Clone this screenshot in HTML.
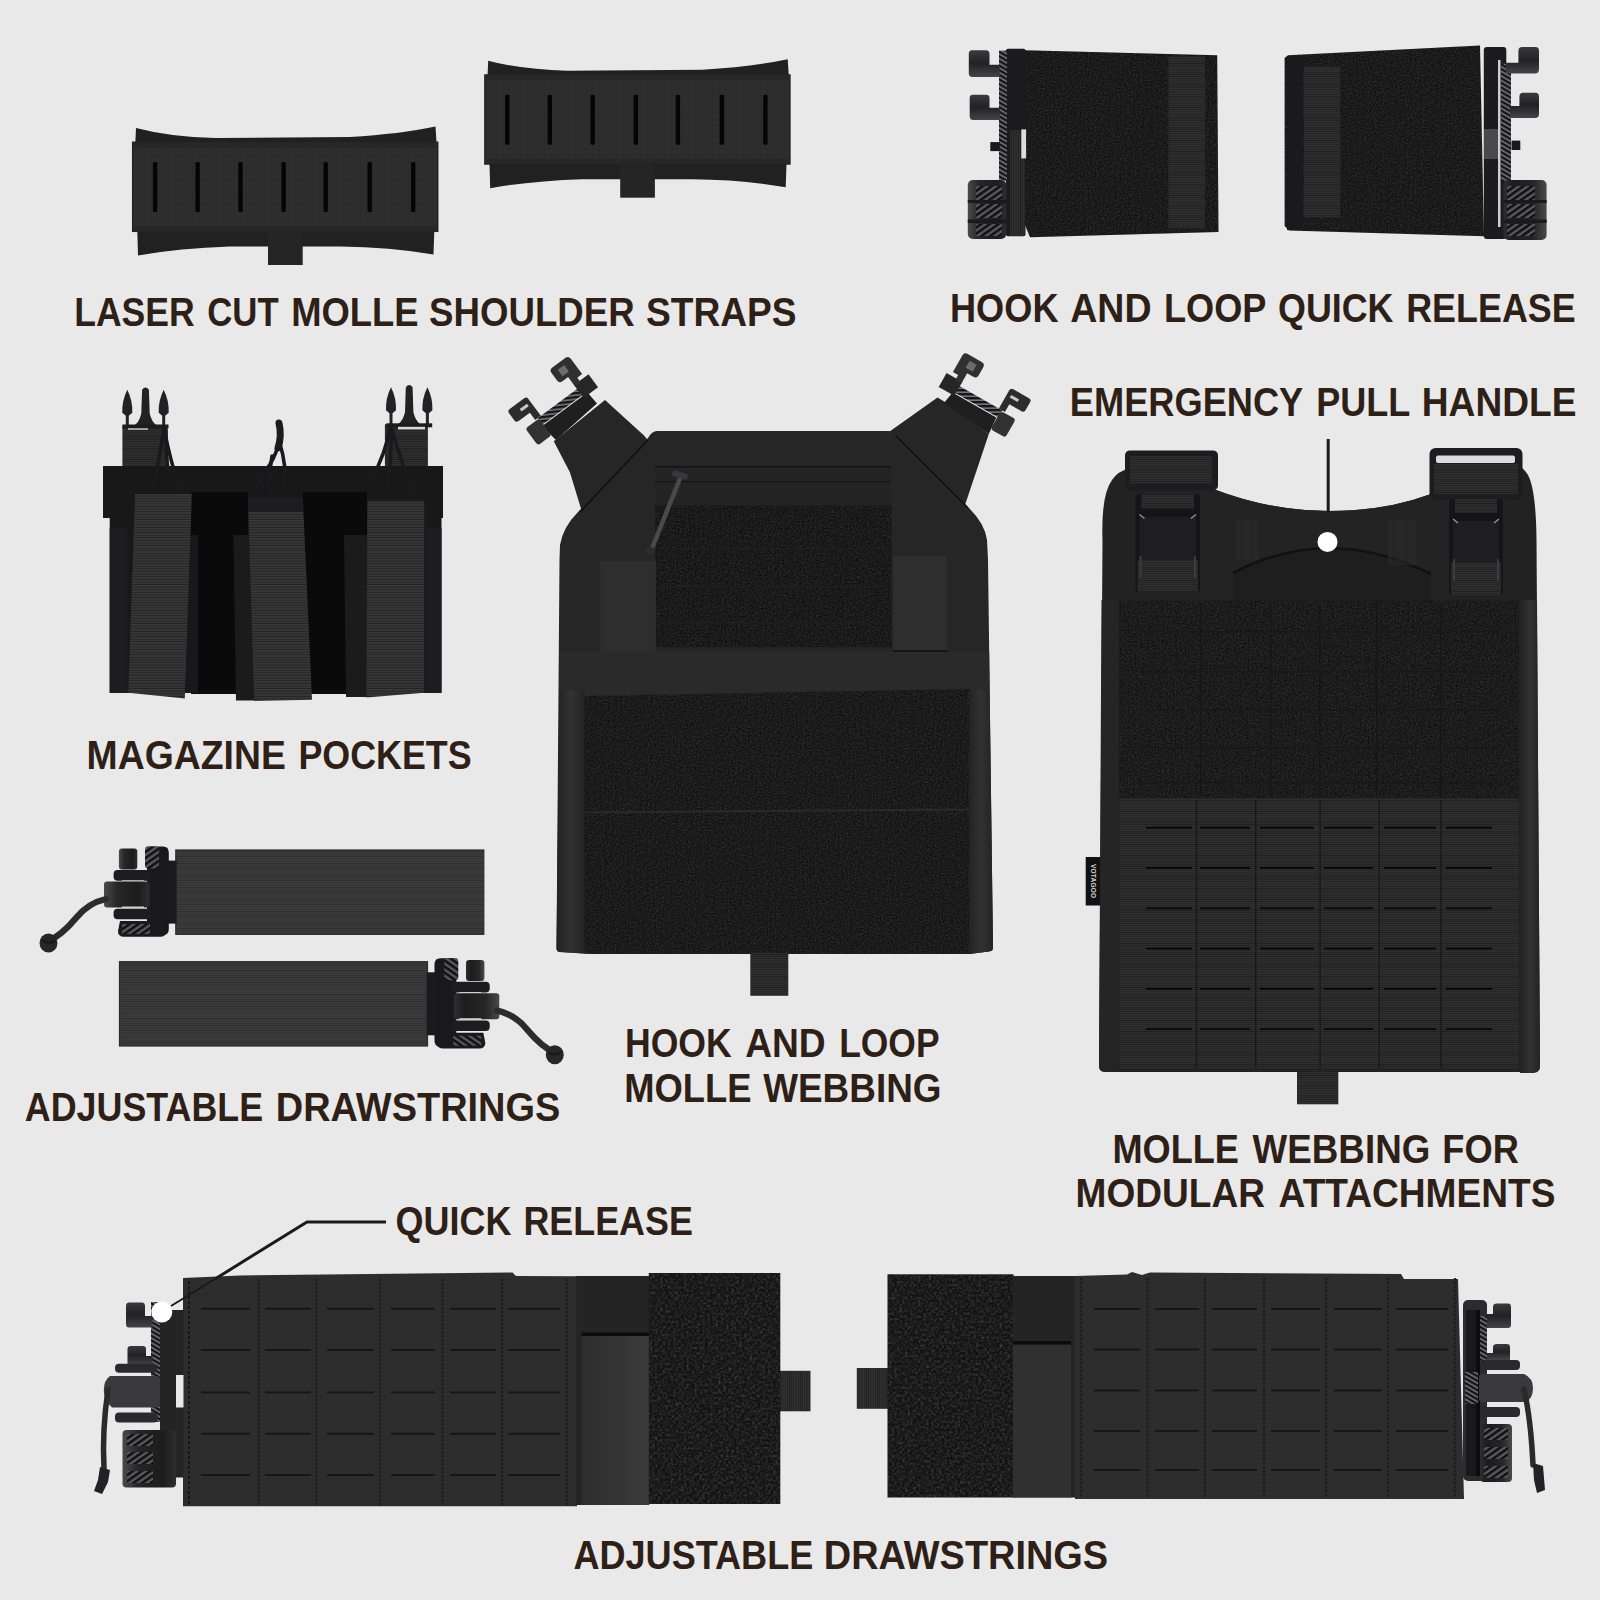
<!DOCTYPE html>
<html><head><meta charset="utf-8"><title>Plate carrier features</title>
<style>
html,body{margin:0;padding:0;background:#e9e9e9;}
body{width:1600px;height:1600px;overflow:hidden;}
svg{display:block;}
text{font-family:"Liberation Sans",sans-serif;font-weight:bold;fill:#2e1f17;}
</style></head><body>
<svg width="1600" height="1600" viewBox="0 0 1600 1600">
<defs>
<filter id="velcro" x="0" y="0" width="100%" height="100%" color-interpolation-filters="sRGB">
  <feTurbulence type="fractalNoise" baseFrequency="0.6" numOctaves="2" seed="3" result="n"/>
  <feColorMatrix in="n" type="matrix" values="0 0 0 0 0  0 0 0 0 0  0 0 0 0 0  0.12 0.12 0.12 0 -0.13"/>
  <feComposite in2="SourceGraphic" operator="in" result="nn"/>
  <feFlood flood-color="#ffffff" result="w"/>
  <feComposite in="w" in2="nn" operator="in" result="wn"/>
  <feMerge><feMergeNode in="SourceGraphic"/><feMergeNode in="wn"/></feMerge>
</filter>
<filter id="velcro2" x="0" y="0" width="100%" height="100%" color-interpolation-filters="sRGB">
  <feTurbulence type="fractalNoise" baseFrequency="0.38" numOctaves="2" seed="7" result="n"/>
  <feColorMatrix in="n" type="matrix" values="0 0 0 0 0  0 0 0 0 0  0 0 0 0 0  0.20 0.20 0.20 0 -0.26"/>
  <feComposite in2="SourceGraphic" operator="in" result="nn"/>
  <feFlood flood-color="#ffffff" result="w"/>
  <feComposite in="w" in2="nn" operator="in" result="wn"/>
  <feMerge><feMergeNode in="SourceGraphic"/><feMergeNode in="wn"/></feMerge>
</filter>
<pattern id="rib" width="4" height="2.2" patternUnits="userSpaceOnUse">
  <rect width="4" height="2.2" fill="#2f2f2f"/><rect y="1.4" width="4" height="0.8" fill="#1f1f1f"/>
</pattern>
<pattern id="ribP" width="4" height="2.6" patternUnits="userSpaceOnUse">
  <rect width="4" height="2.6" fill="#393939"/><rect y="1.6" width="4" height="1" fill="#222222"/>
</pattern>
<pattern id="ribS" width="4" height="2.4" patternUnits="userSpaceOnUse">
  <rect width="4" height="2.4" fill="#3c3c3c"/><rect y="1.6" width="4" height="0.8" fill="#2d2d2d"/>
</pattern>
<pattern id="ribV" width="2.2" height="4" patternUnits="userSpaceOnUse">
  <rect width="2.2" height="4" fill="#303030"/><rect x="1.4" width="0.8" height="4" fill="#202020"/>
</pattern>
<pattern id="ripstop" width="6" height="6" patternUnits="userSpaceOnUse">
  <rect width="6" height="6" fill="#2e2e2e"/><path d="M0 0H6M0 0V6" stroke="#272727" stroke-width="1"/>
</pattern>
<pattern id="hatch" width="5" height="5" patternUnits="userSpaceOnUse" patternTransform="rotate(-35)">
  <rect width="5" height="5" fill="#5a5a5c"/><rect width="5" height="2.6" fill="#101012"/>
</pattern>
<pattern id="cord" width="4" height="4" patternUnits="userSpaceOnUse" patternTransform="rotate(30)">
  <rect width="4" height="4" fill="#77777a"/><rect width="4" height="2.4" fill="#151517"/>
</pattern>
<linearGradient id="elas" x1="0" y1="0" x2="1" y2="0"><stop offset="0" stop-color="#2e2e2e"/><stop offset="0.55" stop-color="#353535"/><stop offset="1" stop-color="#3c3c3c"/></linearGradient>
<linearGradient id="sideg" x1="0" y1="0" x2="1" y2="0"><stop offset="0" stop-color="#222222"/><stop offset="0.5" stop-color="#323232"/><stop offset="1" stop-color="#232323"/></linearGradient>
<linearGradient id="cyl" x1="0" y1="0" x2="1" y2="0">
  <stop offset="0" stop-color="#4a4a4a"/><stop offset="0.3" stop-color="#262626"/><stop offset="0.75" stop-color="#1c1c1c"/><stop offset="1" stop-color="#2e2e2e"/>
</linearGradient>
<linearGradient id="cylR" x1="1" y1="0" x2="0" y2="0">
  <stop offset="0" stop-color="#4a4a4a"/><stop offset="0.3" stop-color="#262626"/><stop offset="0.75" stop-color="#1c1c1c"/><stop offset="1" stop-color="#2e2e2e"/>
</linearGradient>
<linearGradient id="hookg" x1="0" y1="0" x2="0" y2="1">
  <stop offset="0" stop-color="#3a3a3c"/><stop offset="0.5" stop-color="#222224"/><stop offset="1" stop-color="#444447"/>
</linearGradient>
</defs>
<rect width="1600" height="1600" fill="#e9e9e9"/>
<g id="strap"><path d="M136 128 Q170 137 215 138 L350 137 Q400 134 435.5 126.5 L437 150 L433.5 254.5 Q390 247 340 246.5 L230 246.5 Q180 248 138 255.5 L135 150 Z" fill="#212121"/><rect x="268" y="228" width="34.7" height="37" fill="#252525"/><rect x="132.7" y="142.3" width="305" height="89" fill="url(#ripstop)"/><rect x="132.7" y="142.3" width="305" height="89" fill="none" stroke="#222222" stroke-width="1.5"/><rect x="132.7" y="142.3" width="305" height="5" fill="#272727"/><rect x="132.7" y="226" width="305" height="5.3" fill="#272727"/><rect x="152.9" y="162" width="4.4" height="50" rx="1.5" fill="#050506"/><rect x="195.4" y="162" width="4.4" height="50" rx="1.5" fill="#050506"/><rect x="238.3" y="162" width="4.4" height="50" rx="1.5" fill="#050506"/><rect x="281.4" y="162" width="4.4" height="50" rx="1.5" fill="#050506"/><rect x="323.5" y="162" width="4.4" height="50" rx="1.5" fill="#050506"/><rect x="367.5" y="162" width="4.4" height="50" rx="1.5" fill="#050506"/><rect x="411.0" y="162" width="4.4" height="50" rx="1.5" fill="#050506"/></g><use href="#strap" transform="translate(352.2,-67.3)"/><g id="hlL"><path d="M1025 50.3 L1217.2 55.3 L1218.5 232 L1030 237.2 L1025 225 Z" fill="#101010" filter="url(#velcro)"/><rect x="1168.4" y="56.3" width="36.6" height="172.5" fill="url(#rib)"/><rect x="1006" y="48.8" width="19.5" height="187.5" rx="2" fill="#1b1b1d"/><rect x="1010" y="130" width="15" height="106" fill="url(#ribV)"/><rect x="999" y="50.6" width="8" height="130" fill="url(#cord)"/><path d="M972 50.3 H986 Q989.5 50.3 989.5 54 V64.7 H999.7 V76.9 H972 Q968.8 76.9 968.8 73 V54 Q968.8 50.3 972 50.3Z" fill="url(#hookg)"/><path d="M973 94.7 H986 Q989.5 94.7 989.5 98 V107.8 H999.7 V120 H973 Q969.7 120 969.7 116 V98 Q969.7 94.7 973 94.7Z" fill="url(#hookg)"/><rect x="990.3" y="142.1" width="9.5" height="9" fill="#1a1a1c"/><rect x="1021.3" y="129.4" width="4.8" height="29" fill="#dcdcdc"/><rect x="967.8" y="180" width="38.5" height="59" rx="5" fill="url(#cyl)"/><rect x="976" y="186" width="26" height="14" fill="url(#hatch)"/><rect x="976" y="204" width="26" height="14" fill="url(#hatch)"/><rect x="976" y="224" width="26" height="12" fill="url(#hatch)"/><rect x="967.8" y="200" width="38.5" height="3" fill="#1a1a1c"/><rect x="967.8" y="219.5" width="38.5" height="3.5" fill="#1a1a1c"/></g><g id="hlR"><path d="M1284.6 58 L1288 55.3 L1480 45.4 L1484 236.3 L1289 230.6 L1284.6 226 Z" fill="#101010" filter="url(#velcro)"/><rect x="1287" y="56" width="16" height="174" fill="#1a1a1c"/><rect x="1303.8" y="66.6" width="36.5" height="151" fill="url(#rib)"/><rect x="1483.8" y="46.9" width="22.5" height="192" rx="3" fill="#1c1c1e"/><rect x="1498" y="60" width="2.5" height="167" fill="#cfcfcf"/><rect x="1484" y="129" width="14" height="30" fill="#4a4a4c"/><rect x="1501" y="63.8" width="10" height="117" fill="url(#cord)"/><path d="M1522 46.9 H1535.5 Q1539 46.9 1539 51 V69 Q1539 73.5 1535 73.5 H1506 V62.8 H1518.4 V51 Q1518.4 46.9 1522 46.9Z" fill="url(#hookg)"/><path d="M1523 92.8 H1535.5 Q1539 92.8 1539 97 V114 Q1539 118.1 1535 118.1 H1510 V105.9 H1519.4 V97 Q1519.4 92.8 1523 92.8Z" fill="url(#hookg)"/><rect x="1511.5" y="140.6" width="8.8" height="9.4" fill="#1a1a1c"/><rect x="1503.4" y="180" width="43.2" height="60" rx="5" fill="url(#cylR)"/><rect x="1507" y="186" width="28" height="14" fill="url(#hatch)"/><rect x="1507" y="204" width="28" height="14" fill="url(#hatch)"/><rect x="1507" y="224" width="28" height="12" fill="url(#hatch)"/><rect x="1503.4" y="200" width="43.2" height="3" fill="#1a1a1c"/><rect x="1503.4" y="219.5" width="43.2" height="3.5" fill="#1a1a1c"/></g><g id="mag"><rect x="122.4" y="425.5" width="45" height="44" fill="url(#rib)"/><rect x="384.9" y="424.3" width="43" height="45" fill="url(#rib)"/><path d="M142.1 389.7 Q145.5 385.2 148.9 389.7 L149.7 413.5 Q151.5 421.5 156.5 425.5 H134.5 Q139.5 421.5 141.3 413.5 Z" fill="#222222"/><path d="M127.3 389.7 Q132.8 400.7 132.3 412.7 L128.8 415.7 V427.5 H125.8 V415.7 L122.3 412.7 Q121.8 400.7 127.3 389.7 Z" fill="#222224"/><path d="M163.7 389.7 Q169.2 400.7 168.7 412.7 L165.2 415.7 V427.5 H162.2 V415.7 L158.7 412.7 Q158.2 400.7 163.7 389.7 Z" fill="#222224"/><rect x="122.5" y="424.5" width="46" height="4" fill="#1c1c1e"/><path d="M405.8 387.3 Q409.2 382.8 412.59999999999997 387.3 L413.4 412.3 Q415.2 420.3 420.2 424.3 H398.2 Q403.2 420.3 405.0 412.3 Z" fill="#222222"/><path d="M391.0 387.3 Q396.5 398.3 396.0 410.3 L392.5 413.3 V426.3 H389.5 V413.3 L386.0 410.3 Q385.5 398.3 391.0 387.3 Z" fill="#222224"/><path d="M427.4 387.3 Q432.9 398.3 432.4 410.3 L428.9 413.3 V426.3 H425.9 V413.3 L422.4 410.3 Q421.9 398.3 427.4 387.3 Z" fill="#222224"/><rect x="386.2" y="423.3" width="46" height="4" fill="#1c1c1e"/><rect x="398" y="426.8" width="27" height="2.6" fill="#d8d8d8"/><rect x="128" y="428.2" width="20" height="1.6" fill="#bdbdbd"/><path d="M103 466 H443 V518 H441.5 V693 H109.7 V518 H103 Z" fill="#181818"/><rect x="109.7" y="528" width="18" height="165" fill="#1d1d1f"/><rect x="426" y="528" width="15.5" height="165" fill="#1d1d1f"/><rect x="191" y="492" width="57" height="202" fill="#0a0a0b"/><rect x="303" y="492" width="64" height="202" fill="#0a0a0b"/><path d="M233.4 535 H256 V700.5 H236 Z" fill="#1b1b1b"/><path d="M344 535 H369 V697 H346 Z" fill="#1b1b1b"/><path d="M184 535 H198 V693 H186 Z" fill="#18181a"/><path d="M135.1 493.9 H191.8 L184.8 698.5 L128.2 692.8 Z" fill="url(#ribP)"/><path d="M248 498 H302.8 L312 699.7 L254.2 700.9 Z" fill="url(#ribP)"/><path d="M367.5 500.8 H424.2 V692.8 L366.4 697.4 Z" fill="url(#ribP)"/><rect x="248" y="498" width="54.8" height="14" fill="#1d1d1f"/><path d="M164 428 Q160 455 153 488" fill="none" stroke="#1a1a1c" stroke-width="3.6" stroke-linecap="round"/><path d="M164 428 Q170 460 180 490" fill="none" stroke="#1a1a1c" stroke-width="3.6" stroke-linecap="round"/><path d="M166 430 Q166 455 168 470" fill="none" stroke="#1a1a1c" stroke-width="3.6" stroke-linecap="round"/><path d="M279 423 Q282 436 278 448" fill="none" stroke="#1c1c1c" stroke-width="7" stroke-linecap="round"/><path d="M278 446 Q274 460 266 470 Q258 480 256 495" fill="none" stroke="#1a1a1c" stroke-width="3.6" stroke-linecap="round"/><path d="M279 440 Q288 470 285 493" fill="none" stroke="#1a1a1c" stroke-width="3.6" stroke-linecap="round"/><path d="M272 456 Q268 480 270 494" fill="none" stroke="#1a1a1c" stroke-width="3.6" stroke-linecap="round"/><path d="M390 428 Q385 455 372 478" fill="none" stroke="#1a1a1c" stroke-width="3.6" stroke-linecap="round"/><path d="M392 430 Q400 460 416 497" fill="none" stroke="#1a1a1c" stroke-width="3.6" stroke-linecap="round"/><path d="M391 432 Q392 460 386 492" fill="none" stroke="#1a1a1c" stroke-width="3.6" stroke-linecap="round"/></g><g id="front"><path d="M605 400 L644 435.5 L656 450 L582 512 L570 472.5 L553.8 441.3 Z" fill="#262626"/><path d="M541.9 426.3 L587.5 392.5 L597 403.5 L556 440 Z" fill="#1f1f1f"/><path d="M937.5 397.5 L945 402 L988.8 434 L965 505 L890 450 L887.5 433 Z" fill="#262626"/><path d="M952.5 392.5 L996.3 417.5 L988.8 434 L944 403 Z" fill="#1f1f1f"/><g transform="translate(564.7,409.4) rotate(-36.5) scale(1,1)"><rect x="-27" y="-9" width="54" height="8" fill="url(#cord)"/><path d="M22 -14 H40 V2 H22 Z" fill="#262626"/><path d="M15 -41 H31 Q35 -41 35 -37 V-18 H29 V-12 H22 V-24 H15 Q11 -24 11 -28 V-37 Q11 -41 15 -41Z" fill="#303030"/><path d="M-44 -33 H-26 Q-23 -33 -23 -30 V-9 H-30 V-18 H-44 Q-47 -18 -47 -21 V-30 Q-47 -33 -44 -33Z" fill="#2c2c2c"/><rect x="-36" y="-27" width="9" height="3" fill="#c9c9c9"/><rect x="-43" y="-8" width="17" height="21" rx="3" fill="#323232"/><rect x="18" y="-36" width="8" height="8" fill="#6c6c70"/></g><g transform="translate(974.4,405) rotate(29.7) scale(-1,1)"><rect x="-27" y="-9" width="54" height="8" fill="url(#cord)"/><path d="M22 -14 H40 V2 H22 Z" fill="#262626"/><path d="M15 -41 H31 Q35 -41 35 -37 V-18 H29 V-12 H22 V-24 H15 Q11 -24 11 -28 V-37 Q11 -41 15 -41Z" fill="#303030"/><path d="M-44 -33 H-26 Q-23 -33 -23 -30 V-9 H-30 V-18 H-44 Q-47 -18 -47 -21 V-30 Q-47 -33 -44 -33Z" fill="#2c2c2c"/><rect x="-36" y="-27" width="9" height="3" fill="#c9c9c9"/><rect x="-43" y="-8" width="17" height="21" rx="3" fill="#323232"/><rect x="18" y="-36" width="8" height="8" fill="#6c6c70"/></g><path d="M657 431 H888 Q893 431 897 435 L969 508 Q985 524 987 540 L988 560 L993 948 Q993 951 989 951.5 L970 954 H590 L560 952 Q556.5 952 556.5 948 L559.5 560 L560 545 Q563 527 578 512 L648 438 Q652 431 657 431 Z" fill="#262626"/><path d="M648 440 L580 512" stroke="#0f0f10" stroke-width="1.5" fill="none"/><path d="M896 436 L968 508" stroke="#0f0f10" stroke-width="1.5" fill="none"/><rect x="655" y="466" width="236" height="40" fill="#242424"/><rect x="655" y="466" width="236" height="1.5" fill="#111113"/><rect x="655" y="481" width="236" height="1.2" fill="#141416"/><rect x="655.2" y="505.4" width="236.3" height="141.7" fill="#0f0f0f" filter="url(#velcro)"/><rect x="660" y="548" width="228" height="1.6" fill="#1f1f21"/><rect x="660" y="586" width="228" height="1.6" fill="#1f1f21"/><rect x="660" y="622" width="228" height="1.6" fill="#1f1f21"/><rect x="600.2" y="561" width="55.7" height="99.6" fill="#2e2e2e"/><rect x="600.2" y="655" width="55.7" height="5.6" fill="#151517"/><rect x="893.2" y="556" width="54" height="99.6" fill="#2e2e2e"/><rect x="893.2" y="650" width="54" height="5.6" fill="#151517"/><path d="M681 476 L651 551" stroke="#4a4a4d" stroke-width="4.5" stroke-linecap="round" fill="none"/><circle cx="650" cy="551" r="4.5" fill="#2c2c2e"/><rect x="672" y="472" width="16" height="6" rx="2" fill="#38383a" transform="rotate(15 680 475)"/><path d="M559.5 652 H989.2 L989.6 690 L584 697 H559.3 Z" fill="#2a2a2a"/><path d="M559.3 690 H585 V953.6 L560 952 Q556.5 952 556.5 948 Z" fill="url(#sideg)"/><path d="M968.5 690 H989.6 L993 948 Q993 951 989 951.5 L968.5 954 Z" fill="url(#sideg)"/><path d="M584.5 696 L969 689 V953.5 H584.5 Z" fill="#101010" filter="url(#velcro)"/><path d="M584.5 811.5 L969 808.5 V810.5 L584.5 813.5 Z" fill="#2a2a2a"/><rect x="750.3" y="953" width="38" height="42.8" fill="url(#rib)"/></g><g id="back"><rect x="1085.7" y="857" width="16" height="48.5" fill="#111113"/><text transform="translate(1090.5,864) rotate(90)" style="font-size:6.5px;fill:#d0d0d0;font-weight:bold" textLength="34">VOTAGOO</text><path d="M1102.5 540 Q1101 495 1112 480 Q1118 471 1130 468 L1212 488.5 Q1270 511 1329 511 Q1385 511 1429.5 494.5 L1505 462 Q1520 462 1528 475 Q1536 490 1536.5 540 L1540 1066 Q1540 1072 1534 1072 H1105 Q1099 1072 1099 1066 Z" fill="#222222"/><path d="M1520 600 H1537 L1540 1066 Q1540 1072 1534 1073 H1520 Z" fill="url(#sideg)"/><path d="M1101.5 600 H1118 V1071 H1105 Q1099 1071 1099 1066 Z" fill="#252525"/><path d="M1200 487 L1212 488.5 Q1270 511 1329 511 Q1385 511 1429.5 494.5 L1449 490 V601 H1200 Z" fill="#232323"/><path d="M1233 573 Q1329 526 1431 574 V601 H1233 Z" fill="#1e1e1e"/><path d="M1233 573 Q1329 523 1431 574" fill="none" stroke="#111111" stroke-width="2.5"/><rect x="1236" y="520" width="22" height="40" fill="url(#ribV)" opacity="0.5"/><rect x="1388" y="520" width="30" height="45" fill="url(#ribV)" opacity="0.5"/><rect x="1125" y="450.4" width="93" height="40" rx="5" fill="#1d1d1f"/><rect x="1130" y="456" width="82" height="28" fill="url(#rib)"/><rect x="1429.5" y="448" width="93" height="52" rx="6" fill="#1d1d1f"/><rect x="1436" y="455.5" width="79" height="7.5" rx="2" fill="#dcdcdc"/><rect x="1434" y="464" width="84" height="30" fill="url(#rib)"/><rect x="1135.5" y="494.5" width="64.5" height="97.5" rx="3" fill="#151517"/><rect x="1139.5" y="516.5" width="56.5" height="45.5" fill="#1e1e20"/><rect x="1137.5" y="560.0" width="60.5" height="32" fill="url(#rib)"/><rect x="1141.5" y="494.5" width="52.5" height="14" fill="url(#rib)"/><path d="M1139.5 514.5 l5 4 M1196.0 514.5 l-5 4" stroke="#8c8c8f" stroke-width="1.6"/><path d="M1140.5 556.0 v22 M1195.0 556.0 v22" stroke="#3c3c3f" stroke-width="2"/><rect x="1449" y="499" width="54" height="96" rx="3" fill="#151517"/><rect x="1453" y="521" width="46" height="44" fill="#1e1e20"/><rect x="1451" y="563" width="50" height="32" fill="url(#rib)"/><rect x="1455" y="499" width="42" height="14" fill="url(#rib)"/><path d="M1453 519 l5 4 M1499 519 l-5 4" stroke="#8c8c8f" stroke-width="1.6"/><path d="M1454 559 v22 M1498 559 v22" stroke="#3c3c3f" stroke-width="2"/><rect x="1119.5" y="600.7" width="399" height="197.3" fill="#111111" filter="url(#velcro)"/><rect x="1140" y="631" width="360" height="1.5" fill="#18181a"/><rect x="1140" y="671" width="360" height="1.5" fill="#18181a"/><rect x="1140" y="709" width="360" height="1.5" fill="#18181a"/><rect x="1140" y="747" width="360" height="1.5" fill="#18181a"/><rect x="1140" y="782" width="360" height="1.5" fill="#18181a"/><rect x="1200" y="604" width="1.5" height="192" fill="#161618"/><rect x="1270" y="604" width="1.5" height="192" fill="#161618"/><rect x="1319" y="604" width="1.5" height="192" fill="#161618"/><rect x="1376" y="604" width="1.5" height="192" fill="#161618"/><rect x="1440" y="604" width="1.5" height="192" fill="#161618"/><rect x="1119.5" y="798" width="399" height="271" fill="url(#rib)"/><rect x="1146" y="826.8000000000001" width="46" height="1.8" fill="#08080a"/><rect x="1200" y="826.8000000000001" width="50" height="1.8" fill="#08080a"/><rect x="1260" y="826.8000000000001" width="54" height="1.8" fill="#08080a"/><rect x="1324" y="826.8000000000001" width="49" height="1.8" fill="#08080a"/><rect x="1384" y="826.8000000000001" width="52" height="1.8" fill="#08080a"/><rect x="1446" y="826.8000000000001" width="46" height="1.8" fill="#08080a"/><rect x="1146" y="867.1" width="46" height="1.8" fill="#08080a"/><rect x="1200" y="867.1" width="50" height="1.8" fill="#08080a"/><rect x="1260" y="867.1" width="54" height="1.8" fill="#08080a"/><rect x="1324" y="867.1" width="49" height="1.8" fill="#08080a"/><rect x="1384" y="867.1" width="52" height="1.8" fill="#08080a"/><rect x="1446" y="867.1" width="46" height="1.8" fill="#08080a"/><rect x="1146" y="907.4000000000001" width="46" height="1.8" fill="#08080a"/><rect x="1200" y="907.4000000000001" width="50" height="1.8" fill="#08080a"/><rect x="1260" y="907.4000000000001" width="54" height="1.8" fill="#08080a"/><rect x="1324" y="907.4000000000001" width="49" height="1.8" fill="#08080a"/><rect x="1384" y="907.4000000000001" width="52" height="1.8" fill="#08080a"/><rect x="1446" y="907.4000000000001" width="46" height="1.8" fill="#08080a"/><rect x="1146" y="947.7" width="46" height="1.8" fill="#08080a"/><rect x="1200" y="947.7" width="50" height="1.8" fill="#08080a"/><rect x="1260" y="947.7" width="54" height="1.8" fill="#08080a"/><rect x="1324" y="947.7" width="49" height="1.8" fill="#08080a"/><rect x="1384" y="947.7" width="52" height="1.8" fill="#08080a"/><rect x="1446" y="947.7" width="46" height="1.8" fill="#08080a"/><rect x="1146" y="988.0" width="46" height="1.8" fill="#08080a"/><rect x="1200" y="988.0" width="50" height="1.8" fill="#08080a"/><rect x="1260" y="988.0" width="54" height="1.8" fill="#08080a"/><rect x="1324" y="988.0" width="49" height="1.8" fill="#08080a"/><rect x="1384" y="988.0" width="52" height="1.8" fill="#08080a"/><rect x="1446" y="988.0" width="46" height="1.8" fill="#08080a"/><rect x="1146" y="1028.2" width="46" height="1.8" fill="#08080a"/><rect x="1200" y="1028.2" width="50" height="1.8" fill="#08080a"/><rect x="1260" y="1028.2" width="54" height="1.8" fill="#08080a"/><rect x="1324" y="1028.2" width="49" height="1.8" fill="#08080a"/><rect x="1384" y="1028.2" width="52" height="1.8" fill="#08080a"/><rect x="1446" y="1028.2" width="46" height="1.8" fill="#08080a"/><rect x="1195.8" y="800" width="1.4" height="268" fill="#151517" opacity="0.8"/><rect x="1255" y="800" width="1.4" height="268" fill="#151517" opacity="0.8"/><rect x="1319.4" y="800" width="1.4" height="268" fill="#151517" opacity="0.8"/><rect x="1378.6" y="800" width="1.4" height="268" fill="#151517" opacity="0.8"/><rect x="1440.4" y="800" width="1.4" height="268" fill="#151517" opacity="0.8"/><rect x="1297" y="1072" width="41.3" height="32.3" fill="url(#rib)"/><rect x="1326.7" y="439" width="3" height="73" fill="#1a1a1a"/><circle cx="1327.5" cy="541.9" r="10" fill="#ffffff"/></g><g id="draw1"><rect x="175.8" y="850" width="308" height="84.3" fill="url(#ribS)"/><rect x="175.8" y="850" width="308" height="84.3" fill="none" stroke="#2b2b2b" stroke-width="1.2"/><rect x="155.6" y="860.6" width="21" height="63" fill="#1b1b1d"/><path d="M147 846.6 H163 Q168.8 846.6 168.8 853 V929 Q168.8 935 163 935 H147 Z" fill="#19191b"/><rect x="118.9" y="848.4" width="18.4" height="21" rx="3" fill="url(#cyl)"/><rect x="145" y="846.6" width="14" height="22" rx="3" fill="url(#hatch)"/><rect x="113.6" y="870" width="37.7" height="10.8" rx="4" fill="#1d1d1f"/><rect x="122" y="880.3" width="22" height="2.2" fill="#d0d0d0"/><rect x="104" y="881.5" width="45.5" height="26" rx="3" fill="url(#cyl)"/><rect x="122" y="906.5" width="22" height="2.2" fill="#d0d0d0"/><rect x="113.6" y="908.8" width="37.7" height="10.5" rx="4" fill="#1d1d1f"/><path d="M120 921 H166 V932 Q166 936.8 160 936.8 H124 Q118 936.8 118 931 Z" fill="#1a1a1c"/><rect x="122" y="924" width="28" height="10" fill="url(#hatch)"/><path d="M106 899 Q88 903 76 918 Q62 935 47 942" fill="none" stroke="#2c2c2c" stroke-width="6.4" stroke-linecap="round"/><ellipse cx="48.5" cy="943" rx="9" ry="9.5" fill="#262626"/><path d="M42 940 q6 5 13 1" stroke="#141414" stroke-width="1.5" fill="none"/></g><use href="#draw1" transform="translate(603.3,111.7) scale(-1,1)"/><g id="belts"><rect x="778" y="1370.8" width="32.5" height="40.5" fill="url(#ribV)"/><path d="M183 1278 L240 1275.5 L512.5 1272.5 L516 1276 L577 1276.3 V1506.3 H183 Z" fill="#2d2d2d"/><rect x="201" y="1307.8" width="49" height="1.9" fill="#161616"/><rect x="265" y="1307.8" width="46" height="1.9" fill="#161616"/><rect x="327" y="1307.8" width="47" height="1.9" fill="#161616"/><rect x="391" y="1307.8" width="44" height="1.9" fill="#161616"/><rect x="450" y="1307.8" width="46" height="1.9" fill="#161616"/><rect x="508" y="1307.8" width="52" height="1.9" fill="#161616"/><rect x="201" y="1349" width="49" height="1.9" fill="#161616"/><rect x="265" y="1349" width="46" height="1.9" fill="#161616"/><rect x="327" y="1349" width="47" height="1.9" fill="#161616"/><rect x="391" y="1349" width="44" height="1.9" fill="#161616"/><rect x="450" y="1349" width="46" height="1.9" fill="#161616"/><rect x="508" y="1349" width="52" height="1.9" fill="#161616"/><rect x="201" y="1391.5" width="49" height="1.9" fill="#161616"/><rect x="265" y="1391.5" width="46" height="1.9" fill="#161616"/><rect x="327" y="1391.5" width="47" height="1.9" fill="#161616"/><rect x="391" y="1391.5" width="44" height="1.9" fill="#161616"/><rect x="450" y="1391.5" width="46" height="1.9" fill="#161616"/><rect x="508" y="1391.5" width="52" height="1.9" fill="#161616"/><rect x="201" y="1432.8" width="49" height="1.9" fill="#161616"/><rect x="265" y="1432.8" width="46" height="1.9" fill="#161616"/><rect x="327" y="1432.8" width="47" height="1.9" fill="#161616"/><rect x="391" y="1432.8" width="44" height="1.9" fill="#161616"/><rect x="450" y="1432.8" width="46" height="1.9" fill="#161616"/><rect x="508" y="1432.8" width="52" height="1.9" fill="#161616"/><rect x="201" y="1474" width="49" height="1.9" fill="#161616"/><rect x="265" y="1474" width="46" height="1.9" fill="#161616"/><rect x="327" y="1474" width="47" height="1.9" fill="#161616"/><rect x="391" y="1474" width="44" height="1.9" fill="#161616"/><rect x="450" y="1474" width="46" height="1.9" fill="#161616"/><rect x="508" y="1474" width="52" height="1.9" fill="#161616"/><path d="M258.8 1279 V1505" stroke="#1c1c1c" stroke-width="2.2" stroke-dasharray="2.5 1.5" opacity="0.9"/><path d="M316.3 1279 V1505" stroke="#1c1c1c" stroke-width="2.2" stroke-dasharray="2.5 1.5" opacity="0.9"/><path d="M380 1279 V1505" stroke="#1c1c1c" stroke-width="2.2" stroke-dasharray="2.5 1.5" opacity="0.9"/><path d="M442.5 1279 V1505" stroke="#1c1c1c" stroke-width="2.2" stroke-dasharray="2.5 1.5" opacity="0.9"/><path d="M502 1279 V1505" stroke="#1c1c1c" stroke-width="2.2" stroke-dasharray="2.5 1.5" opacity="0.9"/><path d="M567 1279 V1505" stroke="#1c1c1c" stroke-width="2.2" stroke-dasharray="2.5 1.5" opacity="0.9"/><path d="M189 1281 V1504" stroke="#161618" stroke-width="2" stroke-dasharray="3 2"/><rect x="576.3" y="1276" width="73" height="229" fill="#242424"/><rect x="581.5" y="1336" width="67.5" height="169" fill="url(#elas)"/><rect x="581.5" y="1332.5" width="67.5" height="3.5" fill="#0b0b0c"/><rect x="610" y="1336" width="16" height="169" fill="#333336" opacity="0.6"/><rect x="648.8" y="1273" width="131.5" height="231" fill="#131313" filter="url(#velcro2)"/><rect x="160" y="1310" width="23.5" height="167.5" fill="#242424"/><rect x="176" y="1375" width="7.5" height="32.5" fill="#e9e9e9"/><rect x="151" y="1302" width="9" height="120" fill="url(#cord)"/><path d="M129 1302.5 H142 Q145 1302.5 145 1306 V1316 H152.5 V1327.5 H129 Q126 1327.5 126 1324 V1306 Q126 1302.5 129 1302.5Z" fill="url(#hookg)"/><path d="M130.5 1346 H143 Q146 1346 146 1349 V1356 H152.5 V1365 H127.5 V1349 Q127.5 1346 130.5 1346Z" fill="url(#hookg)"/><rect x="115" y="1363.8" width="42.5" height="9" rx="4" fill="#2a2a2c"/><path d="M110 1376 H157 Q160 1376 160 1380 V1404 Q160 1407.5 157 1407.5 H112 Q103.8 1400 103.8 1390 Q104 1380 110 1376Z" fill="#3a3a3d"/><rect x="115" y="1412.5" width="42.5" height="10" rx="4" fill="#2a2a2c"/><rect x="122.5" y="1430" width="53.5" height="57.5" rx="4" fill="url(#cyl)"/><rect x="127" y="1434" width="26" height="12" fill="url(#hatch)"/><rect x="127" y="1452" width="26" height="12" fill="url(#hatch)"/><rect x="127" y="1471" width="26" height="12" fill="url(#hatch)"/><path d="M108 1390 Q102 1430 104 1468" fill="none" stroke="#2a2a2a" stroke-width="5.5" stroke-linecap="round"/><path d="M100 1467 L110 1470 L108 1482 L102 1494 L94 1491 L98 1480 Z" fill="#222224"/><path d="M386 1222 H307 L215 1279" fill="none" stroke="#1a1a1a" stroke-width="3"/><path d="M215 1279 L171 1306" fill="none" stroke="#19191b" stroke-width="2"/><circle cx="161.8" cy="1312" r="10.5" fill="#ffffff"/><rect x="856.8" y="1368" width="33" height="40.8" fill="url(#ribV)"/><rect x="887.5" y="1274.3" width="126" height="223.2" fill="#131313" filter="url(#velcro2)"/><rect x="1013" y="1276" width="62.5" height="221.5" fill="#242424"/><rect x="1013" y="1344.5" width="58" height="153" fill="#303030"/><rect x="1013" y="1341" width="58" height="3.5" fill="#0b0b0c"/><path d="M1075 1276 L1127 1274.5 L1132 1272 L1142 1275 L1150 1272.5 L1401 1274 L1404 1279 L1458 1279 L1464 1499 H1075 Z" fill="#2d2d2d"/><rect x="1094" y="1308" width="46" height="1.9" fill="#161616"/><rect x="1155" y="1308" width="44" height="1.9" fill="#161616"/><rect x="1212" y="1308" width="45" height="1.9" fill="#161616"/><rect x="1271" y="1308" width="49" height="1.9" fill="#161616"/><rect x="1334" y="1308" width="48" height="1.9" fill="#161616"/><rect x="1396" y="1308" width="52" height="1.9" fill="#161616"/><rect x="1094" y="1348.5" width="46" height="1.9" fill="#161616"/><rect x="1155" y="1348.5" width="44" height="1.9" fill="#161616"/><rect x="1212" y="1348.5" width="45" height="1.9" fill="#161616"/><rect x="1271" y="1348.5" width="49" height="1.9" fill="#161616"/><rect x="1334" y="1348.5" width="48" height="1.9" fill="#161616"/><rect x="1396" y="1348.5" width="52" height="1.9" fill="#161616"/><rect x="1094" y="1389.5" width="46" height="1.9" fill="#161616"/><rect x="1155" y="1389.5" width="44" height="1.9" fill="#161616"/><rect x="1212" y="1389.5" width="45" height="1.9" fill="#161616"/><rect x="1271" y="1389.5" width="49" height="1.9" fill="#161616"/><rect x="1334" y="1389.5" width="48" height="1.9" fill="#161616"/><rect x="1396" y="1389.5" width="52" height="1.9" fill="#161616"/><rect x="1094" y="1430" width="46" height="1.9" fill="#161616"/><rect x="1155" y="1430" width="44" height="1.9" fill="#161616"/><rect x="1212" y="1430" width="45" height="1.9" fill="#161616"/><rect x="1271" y="1430" width="49" height="1.9" fill="#161616"/><rect x="1334" y="1430" width="48" height="1.9" fill="#161616"/><rect x="1396" y="1430" width="52" height="1.9" fill="#161616"/><rect x="1094" y="1469" width="46" height="1.9" fill="#161616"/><rect x="1155" y="1469" width="44" height="1.9" fill="#161616"/><rect x="1212" y="1469" width="45" height="1.9" fill="#161616"/><rect x="1271" y="1469" width="49" height="1.9" fill="#161616"/><rect x="1334" y="1469" width="48" height="1.9" fill="#161616"/><rect x="1396" y="1469" width="52" height="1.9" fill="#161616"/><path d="M1081 1278 V1497" stroke="#1c1c1c" stroke-width="2.2" stroke-dasharray="2.5 1.5" opacity="0.9"/><path d="M1147.5 1278 V1497" stroke="#1c1c1c" stroke-width="2.2" stroke-dasharray="2.5 1.5" opacity="0.9"/><path d="M1205 1278 V1497" stroke="#1c1c1c" stroke-width="2.2" stroke-dasharray="2.5 1.5" opacity="0.9"/><path d="M1264 1278 V1497" stroke="#1c1c1c" stroke-width="2.2" stroke-dasharray="2.5 1.5" opacity="0.9"/><path d="M1326 1278 V1497" stroke="#1c1c1c" stroke-width="2.2" stroke-dasharray="2.5 1.5" opacity="0.9"/><path d="M1388 1278 V1497" stroke="#1c1c1c" stroke-width="2.2" stroke-dasharray="2.5 1.5" opacity="0.9"/><path d="M1455 1278 V1497" stroke="#1c1c1c" stroke-width="2.2" stroke-dasharray="2.5 1.5" opacity="0.9"/><rect x="1463" y="1300" width="24" height="181" rx="5" fill="#2c2c2f"/><rect x="1466" y="1310" width="10" height="166" fill="#19191b"/><rect x="1476" y="1310" width="4" height="166" fill="#0c0c0d"/><rect x="1480" y="1316" width="7" height="46" fill="url(#cord)"/><rect x="1465" y="1372" width="13" height="32" fill="url(#cord)"/><path d="M1497 1303.6 H1508 Q1511 1303.6 1511 1307 V1325 Q1511 1328 1508 1328 H1487 V1314 H1493 V1307 Q1493 1303.6 1497 1303.6Z" fill="url(#hookg)"/><path d="M1497 1344 H1507 Q1510 1344 1510 1347 V1360 H1487 V1353 H1493 V1347 Q1493 1344 1497 1344Z" fill="url(#hookg)"/><rect x="1480" y="1360" width="40" height="10" rx="4" fill="#2a2a2c"/><path d="M1481 1374 H1524 Q1533 1378 1533 1388 Q1533 1398 1526 1402 H1481 Q1479 1402 1479 1399 V1377 Q1479 1374 1481 1374Z" fill="#3a3a3d"/><rect x="1480" y="1407" width="40" height="10" rx="4" fill="#2a2a2c"/><rect x="1480" y="1424" width="32" height="58" rx="4" fill="url(#cylR)"/><rect x="1484" y="1428" width="24" height="12" fill="url(#hatch)"/><rect x="1484" y="1447" width="24" height="12" fill="url(#hatch)"/><rect x="1484" y="1466" width="24" height="12" fill="url(#hatch)"/><path d="M1524 1389 Q1531 1420 1533 1465" fill="none" stroke="#2a2a2a" stroke-width="5.5" stroke-linecap="round"/><path d="M1533 1463 L1543 1466 L1545 1490 L1537 1493 L1534 1480 Z" fill="#222224"/></g>
<g id="labels" font-size="41"><text x="74.21" y="326" textLength="120.49" lengthAdjust="spacingAndGlyphs">LASER</text><text x="207.23" y="326" textLength="71.46" lengthAdjust="spacingAndGlyphs">CUT</text><text x="291.20" y="326" textLength="127.31" lengthAdjust="spacingAndGlyphs">MOLLE</text><text x="429.01" y="326" textLength="205.68" lengthAdjust="spacingAndGlyphs">SHOULDER</text><text x="646.00" y="326" textLength="150.49" lengthAdjust="spacingAndGlyphs">STRAPS</text><text x="950.00" y="322" textLength="108.51" lengthAdjust="spacingAndGlyphs">HOOK</text><text x="1070.20" y="322" textLength="81.29" lengthAdjust="spacingAndGlyphs">AND</text><text x="1164.00" y="322" textLength="102.50" lengthAdjust="spacingAndGlyphs">LOOP</text><text x="1278.01" y="322" textLength="115.49" lengthAdjust="spacingAndGlyphs">QUICK</text><text x="1406.18" y="322" textLength="169.53" lengthAdjust="spacingAndGlyphs">RELEASE</text><text x="1069.81" y="416" textLength="233.49" lengthAdjust="spacingAndGlyphs">EMERGENCY</text><text x="1316.19" y="416" textLength="94.11" lengthAdjust="spacingAndGlyphs">PULL</text><text x="1421.78" y="416" textLength="154.72" lengthAdjust="spacingAndGlyphs">HANDLE</text><text x="86.58" y="769" textLength="199.33" lengthAdjust="spacingAndGlyphs">MAGAZINE</text><text x="298.40" y="769" textLength="173.30" lengthAdjust="spacingAndGlyphs">POCKETS</text><text x="24.80" y="1121" textLength="238.30" lengthAdjust="spacingAndGlyphs">ADJUSTABLE</text><text x="275.79" y="1121" textLength="284.51" lengthAdjust="spacingAndGlyphs">DRAWSTRINGS</text><text x="625.02" y="1056.5" textLength="106.67" lengthAdjust="spacingAndGlyphs">HOOK</text><text x="745.20" y="1056.5" textLength="80.50" lengthAdjust="spacingAndGlyphs">AND</text><text x="839.19" y="1056.5" textLength="100.31" lengthAdjust="spacingAndGlyphs">LOOP</text><text x="624.20" y="1101.5" textLength="127.31" lengthAdjust="spacingAndGlyphs">MOLLE</text><text x="763.20" y="1101.5" textLength="178.29" lengthAdjust="spacingAndGlyphs">WEBBING</text><text x="1112.41" y="1162.5" textLength="126.50" lengthAdjust="spacingAndGlyphs">MOLLE</text><text x="1252.60" y="1162.5" textLength="177.68" lengthAdjust="spacingAndGlyphs">WEBBING</text><text x="1442.37" y="1162.5" textLength="76.53" lengthAdjust="spacingAndGlyphs">FOR</text><text x="1075.60" y="1207" textLength="189.29" lengthAdjust="spacingAndGlyphs">MODULAR</text><text x="1278.61" y="1207" textLength="276.89" lengthAdjust="spacingAndGlyphs">ATTACHMENTS</text><text x="395.62" y="1234.5" textLength="115.87" lengthAdjust="spacingAndGlyphs">QUICK</text><text x="523.39" y="1234.5" textLength="169.51" lengthAdjust="spacingAndGlyphs">RELEASE</text><text x="573.40" y="1569" textLength="239.89" lengthAdjust="spacingAndGlyphs">ADJUSTABLE</text><text x="823.79" y="1569" textLength="284.31" lengthAdjust="spacingAndGlyphs">DRAWSTRINGS</text></g>
</svg>
</body></html>
